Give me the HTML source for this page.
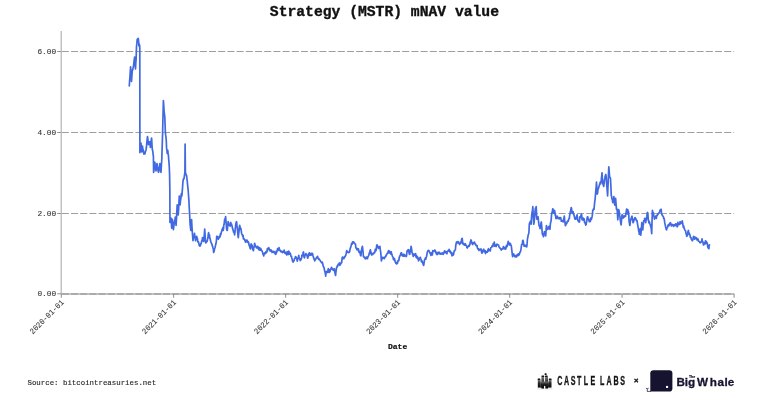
<!DOCTYPE html>
<html><head><meta charset="utf-8"><style>
html,body{margin:0;padding:0;background:#fff;width:761px;height:411px;overflow:hidden}
svg{display:block}
.ax{stroke:#b0b0b0;stroke-width:1.5}
.tk{stroke:#8c8c8c;stroke-width:1}
.grid{stroke:#9e9e9e;stroke-width:1;stroke-dasharray:7.05 2.15;stroke-dashoffset:-0.5}
.tl{font-family:"Liberation Mono",monospace;font-size:7.8px;fill:#333333;stroke:#333333;stroke-width:0.08px}
</style></head><body>
<svg width="761" height="411" viewBox="0 0 761 411">
<rect width="761" height="411" fill="#fff"/>
<text x="384.4" y="16.2" text-anchor="middle" style="font-family:'Liberation Mono',monospace;font-weight:bold;font-size:14.7px" fill="#111" stroke="#111" stroke-width="0.35">Strategy (MSTR) mNAV value</text>
<line x1="57.3" y1="293.8" x2="61.3" y2="293.8" class="tk"/>
<text class="tl" x="56.10" y="296.30" text-anchor="end">0.00</text>
<line x1="61.3" y1="213.5" x2="734.1" y2="213.5" class="grid"/>
<line x1="57.3" y1="213.5" x2="61.3" y2="213.5" class="tk"/>
<text class="tl" x="56.10" y="215.56" text-anchor="end">2.00</text>
<line x1="61.3" y1="132.5" x2="734.1" y2="132.5" class="grid"/>
<line x1="57.3" y1="132.5" x2="61.3" y2="132.5" class="tk"/>
<text class="tl" x="56.10" y="134.82" text-anchor="end">4.00</text>
<line x1="61.3" y1="51.5" x2="734.1" y2="51.5" class="grid"/>
<line x1="57.3" y1="51.5" x2="61.3" y2="51.5" class="tk"/>
<text class="tl" x="56.10" y="54.08" text-anchor="end">6.00</text>

<line x1="61.2" y1="31" x2="61.2" y2="293.9" style="stroke:#b2b2b2;stroke-width:1.2px"/>
<line x1="61.3" y1="293.9" x2="734.1" y2="293.9" class="ax"/>
<line x1="61.3" y1="293.9" x2="734.1" y2="293.9" class="grid" style="stroke-width:1.5px;stroke:#a2a2a2"/>
<line x1="61.30" y1="293.9" x2="61.30" y2="297.7" class="tk"/>
<text class="tl" style="font-size:8.0px" transform="translate(64.30,302.90) rotate(-45) scale(0.93,1)" text-anchor="end">2020-01-01</text>
<line x1="173.64" y1="293.9" x2="173.64" y2="297.7" class="tk"/>
<text class="tl" style="font-size:8.0px" transform="translate(176.64,302.90) rotate(-45) scale(0.93,1)" text-anchor="end">2021-01-01</text>
<line x1="285.67" y1="293.9" x2="285.67" y2="297.7" class="tk"/>
<text class="tl" style="font-size:8.0px" transform="translate(288.67,302.90) rotate(-45) scale(0.93,1)" text-anchor="end">2022-01-01</text>
<line x1="397.70" y1="293.9" x2="397.70" y2="297.7" class="tk"/>
<text class="tl" style="font-size:8.0px" transform="translate(400.70,302.90) rotate(-45) scale(0.93,1)" text-anchor="end">2023-01-01</text>
<line x1="509.73" y1="293.9" x2="509.73" y2="297.7" class="tk"/>
<text class="tl" style="font-size:8.0px" transform="translate(512.73,302.90) rotate(-45) scale(0.93,1)" text-anchor="end">2024-01-01</text>
<line x1="622.07" y1="293.9" x2="622.07" y2="297.7" class="tk"/>
<text class="tl" style="font-size:8.0px" transform="translate(625.07,302.90) rotate(-45) scale(0.93,1)" text-anchor="end">2025-01-01</text>
<line x1="734.10" y1="293.9" x2="734.10" y2="297.7" class="tk"/>
<text class="tl" style="font-size:8.0px" transform="translate(737.10,302.90) rotate(-45) scale(0.93,1)" text-anchor="end">2026-01-01</text>

<path d="M129.30,86.00 L129.62,81.01 L129.95,76.88 L130.28,71.48 L130.60,66.90 L130.90,71.47 L131.20,75.78 L131.50,81.40 L131.90,75.62 L132.30,70.20 L132.60,70.28 L132.90,68.83 L133.20,67.60 L133.55,65.83 L133.90,62.30 L134.25,59.91 L134.60,57.10 L134.90,61.37 L135.20,65.12 L135.50,68.90 L135.80,62.88 L136.10,59.70 L136.50,46.50 L136.85,43.63 L137.20,39.30 L137.52,39.91 L137.85,40.07 L138.18,38.39 L138.50,40.00 L138.90,45.90 L139.25,44.07 L139.60,45.20 L139.80,47.80 L139.90,152.60 L140.27,148.68 L140.63,145.87 L141.00,143.10 L141.35,147.76 L141.70,151.90 L142.05,148.91 L142.40,146.00 L142.78,148.47 L143.15,149.50 L143.53,152.34 L143.90,154.10 L144.25,153.89 L144.60,152.44 L144.95,153.91 L145.30,151.90 L145.67,150.91 L146.03,149.98 L146.40,147.50 L146.77,143.34 L147.13,139.60 L147.50,136.60 L147.83,138.97 L148.17,141.84 L148.50,144.60 L148.80,144.41 L149.10,143.36 L149.40,142.04 L149.70,141.70 L150.05,143.79 L150.40,147.50 L150.70,144.68 L151.00,143.79 L151.30,139.69 L151.60,138.00 L151.90,143.31 L152.20,148.20 L152.50,150.59 L152.80,150.98 L153.10,154.32 L153.40,156.30 L153.60,172.30 L153.90,170.86 L154.20,165.49 L154.50,164.38 L154.80,162.10 L155.10,164.21 L155.40,165.81 L155.70,169.12 L156.00,170.90 L156.33,168.41 L156.67,164.79 L157.00,163.60 L157.38,166.48 L157.75,168.52 L158.12,170.93 L158.50,172.30 L158.85,171.35 L159.20,168.26 L159.55,165.88 L159.90,163.60 L160.27,165.40 L160.63,169.92 L161.00,172.30 L161.40,165.23 L161.80,159.20 L162.20,145.87 L162.60,133.30 L163.00,115.82 L163.40,100.50 L163.75,105.43 L164.10,112.00 L164.45,114.00 L164.80,116.90 L165.30,131.10 L165.65,135.15 L166.00,137.00 L166.30,141.12 L166.60,148.70 L166.90,149.81 L167.20,153.40 L167.50,152.10 L167.80,150.40 L168.10,153.98 L168.40,155.10 L168.70,159.39 L169.00,162.70 L169.30,167.24 L169.60,175.00 L169.85,190.00 L169.95,222.30 L170.30,218.73 L170.65,219.74 L171.00,218.00 L171.35,222.47 L171.70,228.20 L172.05,222.85 L172.40,219.40 L172.73,223.63 L173.07,227.14 L173.40,229.60 L173.70,227.30 L174.00,224.94 L174.30,222.30 L174.63,220.97 L174.97,220.25 L175.30,217.20 L175.70,221.78 L176.10,225.30 L176.47,218.91 L176.83,212.10 L177.20,204.80 L177.53,206.87 L177.87,212.69 L178.20,215.00 L178.57,209.51 L178.93,202.85 L179.30,196.10 L179.70,198.77 L180.10,204.80 L180.47,200.86 L180.83,198.72 L181.20,194.60 L181.30,193.80 L181.60,193.36 L181.90,196.00 L182.20,191.58 L182.50,188.33 L182.80,183.20 L183.20,179.84 L183.60,178.70 L183.95,178.97 L184.30,176.50 L184.60,174.72 L184.90,172.00 L185.10,144.00 L185.40,172.00 L185.80,174.20 L186.20,174.82 L186.60,175.70 L186.95,178.98 L187.30,181.70 L187.70,186.05 L188.10,189.30 L188.50,194.95 L188.90,200.40 L189.25,207.97 L189.60,213.60 L190.10,224.60 L190.45,226.94 L190.80,230.40 L191.20,224.60 L191.60,219.50 L191.95,226.59 L192.30,231.90 L192.65,236.32 L193.00,240.70 L193.38,238.13 L193.75,237.85 L194.12,236.47 L194.50,233.40 L194.83,235.46 L195.17,237.09 L195.50,240.70 L195.80,239.49 L196.10,238.37 L196.40,237.15 L196.70,236.30 L197.05,238.94 L197.40,238.33 L197.75,241.72 L198.10,242.10 L198.47,241.95 L198.85,243.28 L199.22,245.41 L199.60,245.80 L199.97,246.21 L200.35,245.43 L200.72,244.44 L201.10,243.60 L201.45,242.25 L201.80,240.78 L202.15,239.66 L202.50,237.70 L202.80,238.48 L203.10,239.79 L203.40,240.96 L203.70,241.40 L204.03,237.27 L204.37,233.78 L204.70,229.00 L205.03,234.08 L205.37,239.91 L205.70,242.80 L206.07,242.73 L206.45,241.74 L206.82,241.43 L207.20,241.40 L207.55,239.19 L207.90,237.79 L208.25,234.51 L208.60,232.60 L208.90,234.40 L209.20,237.11 L209.50,234.85 L209.80,238.50 L210.18,238.62 L210.55,240.86 L210.93,242.06 L211.30,242.80 L211.65,243.93 L212.00,244.28 L212.35,246.13 L212.70,246.50 L213.00,248.01 L213.30,248.61 L213.60,252.39 L213.90,251.60 L214.23,250.70 L214.57,248.73 L214.90,248.00 L215.27,246.45 L215.63,244.87 L216.00,243.60 L216.37,241.11 L216.73,236.41 L217.10,236.30 L217.40,236.61 L217.70,238.61 L218.00,237.48 L218.30,239.20 L218.63,238.18 L218.97,238.08 L219.30,236.30 L219.68,236.65 L220.05,236.82 L220.43,233.73 L220.80,234.80 L221.15,233.05 L221.50,231.61 L221.85,230.98 L222.20,229.00 L222.53,230.39 L222.87,227.65 L223.20,230.40 L223.50,229.15 L223.80,224.82 L224.10,224.46 L224.40,221.70 L224.70,219.16 L225.00,219.30 L225.30,218.89 L225.60,216.60 L225.93,220.61 L226.27,225.03 L226.60,229.00 L226.95,230.38 L227.30,230.40 L227.70,226.17 L228.10,221.70 L228.45,222.52 L228.80,224.80 L229.15,225.29 L229.50,225.30 L229.83,224.32 L230.17,226.17 L230.50,223.10 L230.80,222.50 L231.10,224.63 L231.40,224.00 L231.70,224.60 L232.07,226.16 L232.45,228.10 L232.82,229.14 L233.20,230.40 L233.55,232.04 L233.90,231.30 L234.25,232.42 L234.60,234.80 L235.00,231.67 L235.40,227.50 L235.73,224.75 L236.07,222.76 L236.40,221.70 L236.70,222.38 L237.00,226.64 L237.30,227.50 L237.63,231.53 L237.97,235.55 L238.30,237.70 L238.65,233.80 L239.00,231.50 L239.35,227.43 L239.70,225.30 L240.07,227.23 L240.45,229.20 L240.82,228.37 L241.20,230.40 L241.57,233.20 L241.95,234.19 L242.32,234.67 L242.70,236.30 L243.05,235.35 L243.40,238.95 L243.75,238.39 L244.10,239.20 L244.44,239.09 L244.78,240.34 L245.12,240.75 L245.46,242.07 L245.80,241.20 L246.18,240.13 L246.55,241.77 L246.93,241.86 L247.30,240.40 L247.68,242.38 L248.05,241.75 L248.43,242.02 L248.80,243.40 L249.15,245.54 L249.50,246.05 L249.85,247.33 L250.20,248.50 L250.50,248.79 L250.80,246.43 L251.10,243.77 L251.40,244.80 L251.73,245.44 L252.07,245.16 L252.40,247.70 L252.73,249.40 L253.07,249.97 L253.40,250.70 L253.70,248.36 L254.00,247.04 L254.30,245.93 L254.60,243.40 L254.97,244.37 L255.35,246.33 L255.73,246.05 L256.10,247.00 L256.45,247.71 L256.80,247.92 L257.15,247.84 L257.50,246.30 L257.88,246.63 L258.25,248.85 L258.62,247.41 L259.00,249.90 L259.35,248.80 L259.70,247.88 L260.05,250.28 L260.40,249.20 L260.77,248.53 L261.15,249.94 L261.52,250.16 L261.90,250.70 L262.27,251.75 L262.65,252.35 L263.02,254.12 L263.40,255.00 L263.75,255.97 L264.10,253.94 L264.45,253.80 L264.80,252.80 L265.18,253.65 L265.55,252.63 L265.93,251.73 L266.30,252.80 L266.65,251.43 L267.00,251.91 L267.35,248.70 L267.70,249.20 L268.00,248.32 L268.30,249.31 L268.60,248.75 L268.90,247.70 L269.23,248.71 L269.57,250.38 L269.90,250.70 L270.27,251.02 L270.65,250.05 L271.02,249.90 L271.40,251.40 L271.75,251.03 L272.10,252.53 L272.45,251.44 L272.80,252.10 L273.18,251.51 L273.55,251.79 L273.93,251.32 L274.30,252.80 L274.68,253.08 L275.05,252.55 L275.43,254.23 L275.80,254.30 L276.15,251.39 L276.50,252.78 L276.85,251.05 L277.20,250.70 L277.57,248.67 L277.95,250.57 L278.32,249.34 L278.70,249.20 L279.05,247.68 L279.40,249.21 L279.75,250.57 L280.10,250.70 L280.48,250.49 L280.85,251.71 L281.23,251.86 L281.60,251.40 L281.98,251.97 L282.35,251.68 L282.73,252.53 L283.10,251.40 L283.45,252.14 L283.80,252.13 L284.15,250.15 L284.50,252.10 L284.88,253.04 L285.25,253.56 L285.62,252.37 L286.00,252.80 L286.35,252.60 L286.70,254.85 L287.05,251.91 L287.40,253.60 L287.77,253.45 L288.15,254.56 L288.52,251.16 L288.90,251.40 L289.27,252.54 L289.65,254.10 L290.02,252.95 L290.40,253.60 L290.75,255.18 L291.10,256.57 L291.45,256.13 L291.80,258.00 L292.13,259.12 L292.47,260.65 L292.80,261.60 L293.10,262.13 L293.40,261.22 L293.70,260.91 L294.00,260.90 L294.38,258.94 L294.75,258.39 L295.12,258.36 L295.50,256.50 L295.85,257.31 L296.20,257.22 L296.55,257.96 L296.90,259.40 L297.27,261.12 L297.65,259.27 L298.02,258.29 L298.40,257.20 L298.77,255.37 L299.15,258.48 L299.52,258.73 L299.90,258.70 L300.20,260.56 L300.50,259.93 L300.80,260.00 L301.18,258.87 L301.55,258.29 L301.93,255.12 L302.30,255.70 L302.60,255.65 L302.90,254.13 L303.20,252.33 L303.50,252.00 L303.83,255.06 L304.17,257.40 L304.50,257.80 L304.85,255.53 L305.20,255.08 L305.55,254.82 L305.90,253.50 L306.27,254.56 L306.65,254.96 L307.02,255.37 L307.40,257.10 L307.77,258.18 L308.15,256.53 L308.52,253.91 L308.90,254.20 L309.25,252.88 L309.60,255.30 L309.95,254.52 L310.30,253.50 L310.68,255.22 L311.05,254.54 L311.43,253.28 L311.80,254.20 L312.15,254.97 L312.50,253.46 L312.85,255.21 L313.20,256.40 L313.57,257.45 L313.95,259.04 L314.32,259.08 L314.70,260.80 L315.07,259.94 L315.45,259.69 L315.82,258.87 L316.20,257.80 L316.55,257.99 L316.90,257.28 L317.25,256.47 L317.60,256.40 L317.93,258.04 L318.27,258.38 L318.60,259.30 L318.90,258.77 L319.20,259.12 L319.50,259.82 L319.80,260.00 L320.18,260.46 L320.55,261.23 L320.93,261.65 L321.30,262.20 L321.65,262.72 L322.00,262.84 L322.35,262.26 L322.70,263.70 L323.00,264.96 L323.30,266.40 L323.60,266.77 L323.90,267.30 L324.23,268.61 L324.57,270.61 L324.90,271.70 L325.30,273.08 L325.70,276.10 L326.05,272.29 L326.40,271.70 L326.73,271.98 L327.07,271.38 L327.40,272.40 L327.70,272.50 L328.00,270.43 L328.30,268.59 L328.60,270.30 L328.95,269.77 L329.30,272.34 L329.65,271.03 L330.00,271.70 L330.38,269.44 L330.75,268.85 L331.12,268.84 L331.50,267.30 L331.80,268.10 L332.10,268.20 L332.40,269.69 L332.70,268.80 L333.03,269.90 L333.37,269.78 L333.70,270.30 L334.05,270.06 L334.40,268.80 L334.70,271.86 L335.00,272.93 L335.30,274.62 L335.60,275.40 L335.93,271.78 L336.27,269.87 L336.60,267.30 L336.98,267.20 L337.35,265.60 L337.73,266.03 L338.10,264.40 L338.45,264.56 L338.80,264.47 L339.15,263.17 L339.50,263.00 L339.88,265.34 L340.25,264.40 L340.62,263.34 L341.00,263.70 L341.35,262.13 L341.70,262.61 L342.05,258.46 L342.40,257.10 L342.77,258.22 L343.15,258.68 L343.52,258.23 L343.90,258.60 L344.27,256.88 L344.65,257.31 L345.02,256.73 L345.40,255.70 L345.75,255.36 L346.10,253.77 L346.45,251.82 L346.80,250.50 L347.18,251.78 L347.55,252.06 L347.93,252.33 L348.30,252.70 L348.65,252.40 L349.00,251.79 L349.35,252.23 L349.70,251.30 L350.07,248.93 L350.45,247.82 L350.82,246.88 L351.20,245.40 L351.53,243.72 L351.87,244.16 L352.20,244.10 L352.55,241.84 L352.90,242.42 L353.25,242.93 L353.60,241.90 L353.98,242.93 L354.35,242.95 L354.73,243.35 L355.10,244.10 L355.48,244.00 L355.85,247.85 L356.23,247.84 L356.60,248.50 L356.95,249.78 L357.30,248.45 L357.65,249.39 L358.00,249.90 L358.38,248.90 L358.75,251.66 L359.12,252.34 L359.50,252.10 L359.85,251.41 L360.20,253.91 L360.55,255.41 L360.90,255.80 L361.27,251.93 L361.65,249.50 L362.02,247.77 L362.40,246.30 L362.73,249.17 L363.07,251.91 L363.40,256.50 L363.70,256.70 L364.00,257.06 L364.30,257.56 L364.60,257.20 L364.98,258.00 L365.35,258.88 L365.73,258.79 L366.10,258.00 L366.45,257.06 L366.80,257.92 L367.15,257.62 L367.50,258.70 L367.80,256.86 L368.10,256.78 L368.40,255.93 L368.70,255.00 L369.03,254.95 L369.37,252.72 L369.70,253.60 L370.05,250.70 L370.40,249.90 L370.70,251.16 L371.00,252.28 L371.30,253.46 L371.60,255.00 L371.98,254.60 L372.35,253.65 L372.73,254.55 L373.10,253.60 L373.45,253.70 L373.80,253.13 L374.15,252.43 L374.50,252.80 L374.88,252.13 L375.25,249.44 L375.62,250.39 L376.00,250.70 L376.33,248.77 L376.67,245.49 L377.00,244.80 L377.38,245.89 L377.75,246.78 L378.12,246.40 L378.50,248.50 L378.85,247.74 L379.20,247.13 L379.55,247.24 L379.90,246.30 L380.30,249.72 L380.70,252.10 L381.05,256.47 L381.40,260.90 L381.75,259.25 L382.10,258.93 L382.45,258.07 L382.80,257.20 L383.18,258.20 L383.55,258.20 L383.93,257.71 L384.30,258.70 L384.68,257.00 L385.05,257.28 L385.43,256.42 L385.80,256.50 L386.15,254.83 L386.50,254.95 L386.85,253.91 L387.20,253.60 L387.57,252.96 L387.95,252.59 L388.32,251.07 L388.70,250.70 L389.05,253.03 L389.40,251.13 L389.75,252.69 L390.10,252.10 L390.48,252.75 L390.85,254.15 L391.23,251.73 L391.60,254.30 L391.98,254.39 L392.35,255.96 L392.73,256.99 L393.10,257.20 L393.45,259.56 L393.80,258.22 L394.15,259.41 L394.50,258.70 L394.83,260.55 L395.17,261.91 L395.50,262.30 L395.80,263.11 L396.10,262.92 L396.40,263.86 L396.70,263.80 L397.07,262.16 L397.45,263.35 L397.82,260.76 L398.20,260.90 L398.55,260.01 L398.90,260.50 L399.25,257.41 L399.60,256.50 L399.98,255.59 L400.35,255.64 L400.73,253.75 L401.10,252.80 L401.48,252.86 L401.85,254.52 L402.23,255.54 L402.60,255.80 L402.95,256.03 L403.30,254.39 L403.65,256.16 L404.00,254.30 L404.38,256.09 L404.75,255.07 L405.12,255.65 L405.50,255.80 L405.85,255.84 L406.20,256.60 L406.53,255.87 L406.87,252.13 L407.20,250.80 L407.55,251.17 L407.90,249.99 L408.25,249.61 L408.60,250.00 L408.97,252.08 L409.33,254.07 L409.70,254.40 L410.05,252.39 L410.40,249.82 L410.75,249.09 L411.10,246.40 L411.40,248.01 L411.70,249.96 L412.00,252.64 L412.30,253.00 L412.60,254.49 L412.90,253.61 L413.20,256.52 L413.50,255.10 L413.85,254.93 L414.20,255.42 L414.55,254.02 L414.90,254.40 L415.27,254.74 L415.65,253.66 L416.02,257.04 L416.40,255.90 L416.75,257.79 L417.10,256.32 L417.45,256.80 L417.80,258.80 L418.17,257.92 L418.53,260.80 L418.90,260.30 L419.25,259.16 L419.60,258.75 L419.95,257.78 L420.30,257.30 L420.67,258.66 L421.03,259.31 L421.40,261.70 L421.77,261.95 L422.13,260.94 L422.50,262.40 L422.80,263.09 L423.10,264.16 L423.40,265.05 L423.70,265.40 L424.03,263.24 L424.37,260.70 L424.70,259.50 L425.07,259.09 L425.45,257.99 L425.82,259.18 L426.20,257.30 L426.55,256.50 L426.90,254.30 L427.25,252.55 L427.60,251.50 L427.98,250.73 L428.35,250.35 L428.73,250.67 L429.10,250.80 L429.45,251.78 L429.80,252.69 L430.15,253.46 L430.50,253.70 L430.88,255.31 L431.25,252.75 L431.62,253.19 L432.00,253.00 L432.38,255.00 L432.75,250.66 L433.12,251.43 L433.50,251.50 L433.85,251.27 L434.20,250.88 L434.55,250.72 L434.90,250.00 L435.27,250.80 L435.63,252.31 L436.00,253.00 L436.35,253.39 L436.70,254.36 L437.05,252.44 L437.40,254.40 L437.77,253.30 L438.15,253.70 L438.52,252.47 L438.90,253.00 L439.25,252.29 L439.60,253.88 L439.95,252.97 L440.30,253.70 L440.68,254.11 L441.05,254.08 L441.43,253.59 L441.80,253.20 L442.15,253.93 L442.50,253.71 L442.85,252.90 L443.20,254.40 L443.57,253.47 L443.95,252.99 L444.32,251.25 L444.70,250.80 L445.07,251.27 L445.45,252.54 L445.82,251.70 L446.20,253.00 L446.55,253.17 L446.90,253.83 L447.25,251.40 L447.60,251.50 L447.98,251.07 L448.35,250.27 L448.73,251.16 L449.10,249.30 L449.40,250.29 L449.70,251.51 L450.00,250.89 L450.30,252.20 L450.65,252.74 L451.00,253.29 L451.35,252.34 L451.70,254.40 L452.07,255.80 L452.45,255.51 L452.82,253.44 L453.20,255.10 L453.57,254.30 L453.93,252.12 L454.30,250.80 L454.67,250.68 L455.03,250.11 L455.40,249.30 L455.73,245.59 L456.07,244.25 L456.40,242.00 L456.75,243.44 L457.10,241.86 L457.45,241.66 L457.80,242.70 L458.18,241.74 L458.55,242.06 L458.93,243.59 L459.30,243.50 L459.68,244.56 L460.05,243.12 L460.43,242.58 L460.80,242.00 L461.15,243.00 L461.50,239.76 L461.85,238.73 L462.20,238.40 L462.55,241.45 L462.90,243.60 L463.27,244.42 L463.65,243.44 L464.02,243.66 L464.40,245.00 L464.75,245.25 L465.10,245.21 L465.45,243.89 L465.80,245.00 L466.18,245.58 L466.55,246.04 L466.93,247.64 L467.30,248.00 L467.65,247.15 L468.00,246.50 L468.38,246.05 L468.75,245.45 L469.12,246.27 L469.50,245.00 L469.85,244.91 L470.20,242.14 L470.55,241.89 L470.90,239.90 L471.27,240.49 L471.63,242.43 L472.00,243.60 L472.35,244.04 L472.70,244.49 L473.05,242.67 L473.40,242.80 L473.77,242.94 L474.15,243.37 L474.52,242.13 L474.90,243.60 L475.27,244.16 L475.65,244.13 L476.02,245.57 L476.40,245.80 L476.75,245.56 L477.10,245.57 L477.45,248.01 L477.80,248.70 L478.18,249.27 L478.55,248.93 L478.93,250.51 L479.30,250.10 L479.65,249.69 L480.00,249.24 L480.35,249.98 L480.70,249.40 L481.00,248.99 L481.30,250.67 L481.60,252.16 L481.90,253.10 L482.27,252.90 L482.65,251.11 L483.02,250.59 L483.40,249.40 L483.75,249.22 L484.10,250.41 L484.45,251.94 L484.80,250.90 L485.18,250.67 L485.55,253.61 L485.93,251.40 L486.30,252.30 L486.65,251.96 L487.00,251.75 L487.35,252.12 L487.70,250.90 L488.07,249.65 L488.45,248.71 L488.82,250.82 L489.20,250.10 L489.57,250.25 L489.95,249.58 L490.32,250.76 L490.70,248.00 L491.05,247.62 L491.40,247.12 L491.75,247.14 L492.10,245.80 L492.48,245.74 L492.85,246.46 L493.23,243.62 L493.60,244.30 L493.95,244.36 L494.30,242.12 L494.65,246.12 L495.00,245.80 L495.38,245.11 L495.75,245.84 L496.12,246.51 L496.50,244.30 L496.88,244.47 L497.25,244.43 L497.62,244.40 L498.00,245.00 L498.35,244.84 L498.70,245.56 L499.05,247.19 L499.40,247.20 L499.77,247.78 L500.15,248.36 L500.52,248.70 L500.90,249.40 L501.25,250.00 L501.60,249.47 L501.95,248.75 L502.30,248.70 L502.68,248.89 L503.05,247.82 L503.43,246.60 L503.80,247.20 L504.18,248.81 L504.55,248.35 L504.93,247.51 L505.30,248.70 L505.65,249.07 L506.00,247.89 L506.35,245.72 L506.70,246.50 L507.07,246.59 L507.45,244.23 L507.82,243.43 L508.20,241.40 L508.57,242.77 L508.93,243.67 L509.30,245.00 L509.67,243.22 L510.03,244.89 L510.40,243.60 L510.73,244.59 L511.07,245.29 L511.40,246.50 L511.70,249.35 L512.00,251.67 L512.30,254.72 L512.60,256.70 L512.95,256.03 L513.30,255.97 L513.65,253.83 L514.00,255.30 L514.38,255.12 L514.75,256.22 L515.12,256.96 L515.50,256.00 L515.85,255.52 L516.20,255.55 L516.55,256.82 L516.90,255.30 L517.27,254.65 L517.65,255.17 L518.02,255.60 L518.40,253.80 L518.73,253.93 L519.07,255.04 L519.40,254.10 L519.75,252.60 L520.10,252.48 L520.45,251.33 L520.80,250.50 L521.20,247.65 L521.60,244.60 L521.95,244.49 L522.30,244.48 L522.65,240.81 L523.00,240.30 L523.37,241.74 L523.73,244.59 L524.10,246.10 L524.45,245.03 L524.80,246.17 L525.15,246.06 L525.50,245.40 L525.80,245.51 L526.10,246.55 L526.40,245.13 L526.70,246.80 L527.07,244.28 L527.43,239.15 L527.80,237.30 L528.17,235.27 L528.53,233.96 L528.90,233.00 L529.30,224.20 L529.63,222.89 L529.97,223.00 L530.30,221.30 L530.70,222.82 L531.10,224.20 L531.45,218.76 L531.80,214.00 L532.13,212.03 L532.47,210.48 L532.80,206.70 L533.10,212.54 L533.40,218.68 L533.70,224.20 L534.03,222.82 L534.37,219.56 L534.70,216.90 L535.05,211.41 L535.40,208.10 L535.80,209.52 L536.20,206.70 L536.55,214.78 L536.90,219.10 L537.20,216.86 L537.50,217.97 L537.80,217.80 L538.10,216.90 L538.43,220.65 L538.77,223.34 L539.10,225.70 L539.43,226.44 L539.77,226.74 L540.10,228.60 L540.40,227.04 L540.70,226.18 L541.00,222.72 L541.30,222.00 L541.67,225.26 L542.03,230.25 L542.40,234.40 L542.77,233.49 L543.13,235.65 L543.50,236.60 L543.83,234.53 L544.17,233.58 L544.50,231.50 L544.80,232.00 L545.10,232.95 L545.40,234.46 L545.70,235.90 L546.05,230.76 L546.40,225.70 L546.73,226.34 L547.07,228.11 L547.40,229.30 L547.77,229.21 L548.15,228.86 L548.52,228.57 L548.90,226.40 L549.27,226.70 L549.63,227.98 L550.00,229.30 L550.40,223.54 L550.80,222.00 L551.15,220.31 L551.50,215.40 L551.80,213.16 L552.10,212.12 L552.40,210.97 L552.70,208.90 L553.03,209.18 L553.37,212.16 L553.70,213.20 L554.03,212.48 L554.37,210.25 L554.70,211.10 L555.00,213.17 L555.30,215.77 L555.60,214.99 L555.90,218.40 L556.25,218.54 L556.60,217.48 L556.95,217.15 L557.30,216.20 L557.67,217.13 L558.05,218.41 L558.42,217.66 L558.80,218.40 L559.17,218.94 L559.55,217.65 L559.92,218.42 L560.30,217.60 L560.65,217.63 L561.00,218.96 L561.35,221.25 L561.70,220.50 L562.08,221.25 L562.45,221.12 L562.83,220.65 L563.20,222.00 L563.57,219.40 L563.93,218.30 L564.30,216.20 L564.67,220.17 L565.03,222.90 L565.40,225.70 L565.73,225.15 L566.07,223.66 L566.40,222.70 L566.75,223.50 L567.10,221.67 L567.45,221.18 L567.80,221.30 L568.17,221.33 L568.55,219.90 L568.92,218.89 L569.30,218.40 L569.60,215.94 L569.90,214.25 L570.20,212.50 L570.53,211.36 L570.87,209.47 L571.20,207.50 L571.53,208.44 L571.87,211.80 L572.20,213.40 L572.53,213.05 L572.87,211.55 L573.20,211.90 L573.50,213.83 L573.80,214.21 L574.10,215.44 L574.40,217.00 L574.75,218.23 L575.10,219.22 L575.45,218.06 L575.80,219.20 L576.10,218.47 L576.40,216.26 L576.70,217.87 L577.00,214.80 L577.33,216.35 L577.67,219.75 L578.00,220.70 L578.37,220.38 L578.73,221.86 L579.10,221.40 L579.47,222.05 L579.83,216.77 L580.20,217.70 L580.50,216.43 L580.80,216.33 L581.10,214.92 L581.40,214.10 L581.73,215.47 L582.07,219.80 L582.40,219.90 L582.77,219.79 L583.15,218.15 L583.52,220.10 L583.90,219.20 L584.23,218.94 L584.57,222.58 L584.90,222.80 L585.20,223.04 L585.50,224.39 L585.80,225.00 L586.13,224.64 L586.47,222.23 L586.80,220.70 L587.13,218.28 L587.47,216.79 L587.80,217.00 L588.10,218.93 L588.40,219.48 L588.70,219.08 L589.00,220.70 L589.33,221.70 L589.67,221.66 L590.00,221.50 L590.34,221.35 L590.68,218.18 L591.02,219.14 L591.36,219.47 L591.70,218.00 L592.05,216.72 L592.40,214.95 L592.75,210.21 L593.10,210.40 L593.40,209.47 L593.70,208.67 L594.00,209.34 L594.30,206.10 L594.70,201.89 L595.10,199.30 L595.45,194.75 L595.80,190.78 L596.15,187.23 L596.50,182.20 L596.85,187.77 L597.20,194.10 L597.53,193.38 L597.87,190.03 L598.20,189.00 L598.54,188.21 L598.88,186.51 L599.22,186.07 L599.56,184.33 L599.90,183.90 L600.20,182.12 L600.50,183.98 L600.80,182.88 L601.10,182.20 L601.40,178.59 L601.70,176.10 L602.00,172.80 L602.40,179.19 L602.80,183.90 L603.10,183.94 L603.40,185.54 L603.70,186.50 L604.10,183.51 L604.50,179.60 L604.80,178.65 L605.10,176.51 L605.40,175.40 L605.80,174.46 L606.20,177.10 L606.55,182.86 L606.90,186.78 L607.25,191.21 L607.60,195.90 L607.90,188.39 L608.20,181.57 L608.50,173.71 L608.80,166.80 L609.20,171.08 L609.60,177.10 L609.90,177.04 L610.20,177.73 L610.50,178.80 L610.90,186.83 L611.30,195.90 L611.64,196.28 L611.98,199.16 L612.32,198.87 L612.66,201.90 L613.00,202.70 L613.30,199.84 L613.60,199.00 L613.90,196.70 L614.20,200.70 L614.50,202.54 L614.80,205.20 L615.20,201.18 L615.60,198.40 L615.90,202.14 L616.20,205.93 L616.50,209.50 L616.90,208.88 L617.30,211.20 L617.80,219.80 L618.10,215.85 L618.40,213.07 L618.70,209.50 L619.00,210.80 L619.30,212.97 L619.60,215.22 L619.90,216.30 L620.20,219.10 L620.50,221.37 L620.80,223.25 L621.10,224.90 L621.43,221.22 L621.77,218.02 L622.10,214.60 L622.40,215.22 L622.70,216.03 L623.00,217.00 L623.30,218.00 L623.64,216.19 L623.98,217.04 L624.32,216.96 L624.66,215.81 L625.00,216.30 L625.50,216.30 L625.87,213.85 L626.23,211.87 L626.60,209.00 L626.90,210.66 L627.20,212.60 L627.50,213.99 L627.80,209.63 L628.10,211.30 L628.40,211.10 L628.75,214.65 L629.10,221.30 L629.43,223.10 L629.77,225.49 L630.10,224.20 L630.43,220.14 L630.77,220.44 L631.10,218.40 L631.40,218.11 L631.70,216.68 L632.00,216.20 L632.33,218.84 L632.67,218.63 L633.00,222.70 L633.37,222.46 L633.73,221.08 L634.10,219.80 L634.47,219.09 L634.83,217.83 L635.20,217.60 L635.50,218.87 L635.80,218.64 L636.10,219.96 L636.40,220.50 L636.73,221.07 L637.07,220.59 L637.40,223.50 L637.73,225.17 L638.07,227.07 L638.40,228.60 L638.70,231.17 L639.00,231.72 L639.30,234.40 L639.63,232.44 L639.97,231.06 L640.30,228.60 L640.80,235.10 L641.13,231.09 L641.47,227.89 L641.80,222.70 L642.13,226.83 L642.47,226.79 L642.80,230.00 L643.10,225.20 L643.40,224.39 L643.70,220.50 L644.03,221.10 L644.37,219.88 L644.70,218.40 L645.03,220.53 L645.37,220.74 L645.70,222.70 L646.00,220.47 L646.30,220.21 L646.60,217.05 L646.90,216.20 L647.25,212.81 L647.60,212.50 L647.93,214.32 L648.27,219.95 L648.60,220.50 L648.90,222.88 L649.20,221.42 L649.50,222.13 L649.80,223.50 L650.10,224.42 L650.40,224.31 L650.70,226.79 L651.00,226.40 L651.35,229.98 L651.70,233.70 L652.05,221.08 L652.40,210.30 L652.77,212.65 L653.13,212.27 L653.50,214.00 L653.83,215.89 L654.17,217.39 L654.50,219.10 L654.80,217.87 L655.10,217.44 L655.40,216.20 L655.73,216.34 L656.07,216.10 L656.40,218.40 L656.73,215.52 L657.07,215.32 L657.40,215.40 L657.70,214.21 L658.00,214.28 L658.30,213.80 L658.60,213.20 L658.97,213.21 L659.33,212.37 L659.70,211.80 L660.07,210.39 L660.43,209.73 L660.80,209.60 L661.13,209.27 L661.47,212.39 L661.80,214.00 L662.10,214.96 L662.40,215.55 L662.70,215.55 L663.00,216.20 L663.37,216.79 L663.73,218.46 L664.10,218.40 L664.43,220.35 L664.77,222.89 L665.10,224.20 L665.47,226.40 L665.83,227.78 L666.20,229.30 L666.57,229.91 L666.93,227.81 L667.30,227.80 L667.60,226.77 L667.90,225.66 L668.20,224.95 L668.50,224.90 L668.83,225.76 L669.17,225.46 L669.50,223.50 L669.83,223.25 L670.17,223.45 L670.50,222.70 L670.80,224.45 L671.10,224.89 L671.40,225.97 L671.70,225.70 L672.08,224.43 L672.45,224.76 L672.83,225.48 L673.20,224.90 L673.55,226.32 L673.90,225.39 L674.25,224.77 L674.60,225.70 L674.92,225.04 L675.24,224.42 L675.56,223.89 L675.88,225.54 L676.20,223.90 L676.53,224.33 L676.87,225.85 L677.20,226.80 L677.55,226.44 L677.90,222.40 L678.20,223.96 L678.50,223.79 L678.80,223.53 L679.10,224.60 L679.43,223.98 L679.77,224.05 L680.10,221.70 L680.43,222.70 L680.77,223.71 L681.10,223.10 L681.40,222.66 L681.70,222.49 L682.00,221.35 L682.30,221.00 L682.65,223.51 L683.00,225.30 L683.37,227.37 L683.73,226.02 L684.10,228.20 L684.47,228.88 L684.83,229.87 L685.20,230.40 L685.50,230.84 L685.80,231.99 L686.10,233.84 L686.40,234.10 L686.73,236.27 L687.07,235.57 L687.40,235.50 L687.75,233.63 L688.10,231.20 L688.40,230.43 L688.70,233.94 L689.00,232.92 L689.30,233.40 L689.63,234.57 L689.97,234.85 L690.30,237.00 L690.67,237.69 L691.03,237.53 L691.40,239.20 L691.77,239.76 L692.13,240.60 L692.50,240.70 L692.80,239.63 L693.10,238.74 L693.40,236.68 L693.70,236.30 L694.03,238.48 L694.37,237.68 L694.70,239.20 L695.03,237.15 L695.37,238.04 L695.70,237.70 L696.00,237.60 L696.30,237.94 L696.60,239.05 L696.90,239.90 L697.20,239.97 L697.50,238.55 L697.80,239.26 L698.10,239.20 L698.43,241.15 L698.77,241.25 L699.10,241.40 L699.43,241.74 L699.77,242.44 L700.10,242.80 L700.40,242.35 L700.70,242.06 L701.00,242.37 L701.30,241.40 L701.67,241.09 L702.03,238.89 L702.40,240.70 L702.77,242.12 L703.13,242.81 L703.50,245.00 L703.83,244.82 L704.17,243.01 L704.50,242.80 L704.80,242.58 L705.10,243.95 L705.40,240.86 L705.70,241.40 L706.07,241.18 L706.43,241.67 L706.80,243.60 L707.13,242.76 L707.47,244.40 L707.80,247.20 L708.17,248.01 L708.53,247.66 L708.90,248.70 L709.20,245.26 L709.50,245.00" fill="none" stroke="#4169e1" stroke-width="1.7" stroke-linejoin="round" stroke-linecap="round"/>
<text x="397.6" y="349" text-anchor="middle" style="font-family:'Liberation Mono',monospace;font-weight:bold;font-size:8.1px" fill="#111" stroke="#111" stroke-width="0.15">Date</text>
<text x="27.5" y="385.2" style="font-family:'Liberation Mono',monospace;font-size:7.4px" fill="#222" stroke="#222" stroke-width="0.12">Source: bitcointreasuries.net</text>
<g fill="#151515"><rect x="544.6" y="373.2" width="2.0" height="1.8" rx="0.5"/><rect x="541.5" y="375.5" width="2.7" height="1.6" rx="0.4"/><rect x="545.0" y="375.5" width="2.7" height="1.6" rx="0.4"/><rect x="537.6" y="378.6" width="2.8" height="1.5" rx="0.4"/><rect x="548.8" y="378.6" width="2.8" height="1.5" rx="0.4"/></g><defs><linearGradient id="tg" x1="0" y1="0" x2="0" y2="1"><stop offset="0" stop-color="#777"/><stop offset="0.45" stop-color="#222"/><stop offset="1" stop-color="#0c0c0c"/></linearGradient></defs><g fill="url(#tg)"><rect x="537.8" y="380.0" width="2.8" height="7.6"/><rect x="548.7" y="380.0" width="2.8" height="7.6"/><rect x="541.4" y="377.0" width="2.7" height="11.8"/><rect x="545.1" y="377.0" width="2.9" height="11.8"/><rect x="540.4" y="381.5" width="8.5" height="6.1"/></g><path d="M544.0,389 L544.0,386.2 Q544.7,385.2 545.3,386.2 L545.3,389 Z" fill="#fff"/><line x1="537" y1="388.9" x2="552.5" y2="388.9" stroke="#ccc" stroke-width="0.6"/><text transform="scale(0.57,1)" x="977.73 989.51 1001.39 1012.32 1024.07 1036.00 1045.61 1052.85 1064.25 1076.18 1088.06" y="384.7" style="font-family:'Liberation Sans',sans-serif;font-weight:bold;font-size:12.5px" fill="#161616" stroke="#161616" stroke-width="0.35">CASTLE LABS</text><text x="634.0" y="382.9" style="font-family:'Liberation Sans',sans-serif;font-weight:bold;font-size:7.5px" fill="#161616" stroke="#161616" stroke-width="0.4">&#215;</text><path d="M653.6,370.2 H669.3 Q672.4,370.2 672.4,373.3 V388.5 Q672.4,391.6 669.3,391.6 H650.3 V373.3 Q650.3,370.2 653.6,370.2 Z" fill="#161331"/><rect x="666" y="385.9" width="2.1" height="2.1" fill="#fff"/><path d="M647.2,391.4 H651 M647.3,391.5 V388.8 M645.9,388.2 Q647.3,389.3 648.7,388.2" stroke="#161331" stroke-width="0.7" fill="none"/><text x="676.42 684.68 687.92 696.89 709.78 717.46 724.48 727.84" y="385.5" style="font-family:'Liberation Sans',sans-serif;font-weight:bold;font-size:11.7px" fill="#161331" stroke="#161331" stroke-width="0.3">BigWhale</text><text x="688.9" y="377.9" style="font-family:'Liberation Sans',sans-serif;font-weight:bold;font-size:3.5px" fill="#161331" stroke="#161331" stroke-width="0.15">The</text>
</svg>
</body></html>
